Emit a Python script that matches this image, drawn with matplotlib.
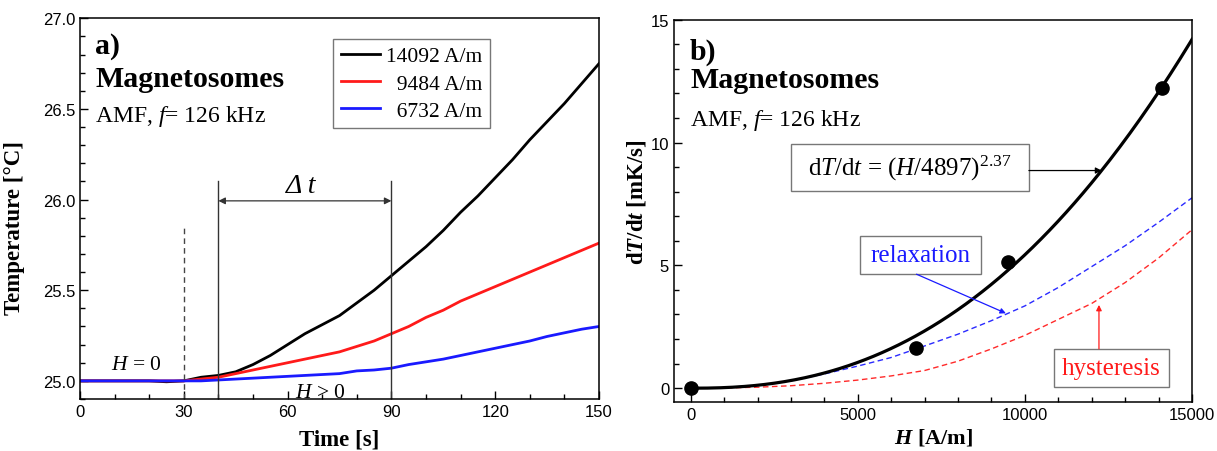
import numpy as np
import matplotlib
matplotlib.use('Agg')
import matplotlib.pyplot as plt
from matplotlib.patches import Rectangle
from matplotlib.ticker import MultipleLocator, FormatStrFormatter

# heating curves, temperature read every 5 s
time_s = [0, 5, 10, 15, 20, 25, 30, 35, 40, 45, 50, 55, 60, 65, 70, 75,
          80, 85, 90, 95, 100, 105, 110, 115, 120, 125, 130, 135, 140, 145, 150]
temp_14092 = [25.00, 25.00, 25.00, 25.00, 25.00, 24.995, 25.00, 25.02, 25.03, 25.05,
              25.09, 25.14, 25.20, 25.26, 25.31, 25.36, 25.43, 25.50, 25.58, 25.66,
              25.74, 25.83, 25.93, 26.02, 26.12, 26.22, 26.33, 26.43, 26.53, 26.64, 26.75]
temp_9484 = [25.00, 25.00, 25.00, 25.00, 25.00, 25.00, 25.00, 25.01, 25.02, 25.04,
             25.06, 25.08, 25.10, 25.12, 25.14, 25.16, 25.19, 25.22, 25.26, 25.30,
             25.35, 25.39, 25.44, 25.48, 25.52, 25.56, 25.60, 25.64, 25.68, 25.72, 25.76]
temp_6732 = [25.00, 25.00, 25.00, 25.00, 25.00, 25.00, 25.00, 25.00, 25.005, 25.01,
             25.015, 25.02, 25.025, 25.03, 25.035, 25.04, 25.055, 25.06, 25.07, 25.09,
             25.105, 25.12, 25.14, 25.16, 25.18, 25.20, 25.22, 25.245, 25.265, 25.285, 25.30]
series_labels = ['14092 A/m', '  9484 A/m', '  6732 A/m']
series_colors = ['black', '#ff1a1a', '#1a1aff']

# heating rate vs field amplitude
field_meas = [0, 6732, 9484, 14092]
rate_meas = [0.0, 1.65, 5.15, 12.2]
fit_scale = 4897
fit_exp = 2.37

field_grid = [0, 1000, 2000, 3000, 4000, 5000, 6000, 7000, 8000,
              9000, 10000, 11000, 12000, 13000, 14000, 15000]
rate_relax = [0.0, 0.02, 0.12, 0.30, 0.58, 0.90, 1.25, 1.72, 2.20,
              2.75, 3.35, 4.10, 4.95, 5.80, 6.75, 7.75]
rate_hyst = [0.0, 0.01, 0.04, 0.10, 0.20, 0.33, 0.50, 0.72, 1.10,
             1.60, 2.15, 2.80, 3.45, 4.30, 5.30, 6.45]

plt.rcParams['font.family'] = 'Liberation Serif'
plt.rcParams['mathtext.fontset'] = 'custom'
plt.rcParams['mathtext.rm'] = 'Liberation Serif'
plt.rcParams['mathtext.it'] = 'Liberation Serif:italic'
plt.rcParams['mathtext.bf'] = 'Liberation Serif:bold'
if 'mathtext.bfit' in plt.rcParams:
    plt.rcParams['mathtext.bfit'] = 'Liberation Serif:italic:bold'

W, H = 1217, 452
fig = plt.figure(figsize=(W / 100, H / 100), dpi=100)
ax1 = fig.add_axes([80 / W, 1 - 400 / H, 519 / W, 380.7 / H])
ax2 = fig.add_axes([674 / W, 1 - 402.7 / H, 518 / W, 382 / H])


def style_axes(ax):
    for sp in ax.spines.values():
        sp.set_linewidth(1.1)
    ax.tick_params(which='both', direction='in', top=False, right=False,
                   labelsize=12, labelfontfamily='Liberation Sans', width=1.0)
    ax.tick_params(which='major', length=6)
    ax.tick_params(which='minor', length=3.5)


# ---- a) temperature vs time ----
style_axes(ax1)
for ys, lab, col in zip([temp_14092, temp_9484, temp_6732], series_labels, series_colors):
    ax1.plot(time_s, ys, color=col, lw=2.0, label=lab)

ax1.set_xlim(0, 150)
ax1.set_ylim(24.9, 27.0)
ax1.xaxis.set_major_locator(MultipleLocator(30))
ax1.xaxis.set_minor_locator(MultipleLocator(10))
ax1.yaxis.set_major_locator(MultipleLocator(0.5))
ax1.yaxis.set_minor_locator(MultipleLocator(0.1))
ax1.yaxis.set_major_formatter(FormatStrFormatter('%.1f'))

# field switch-on and the time window
ax1.plot([30, 30], [24.9, 25.85], color='#444444', lw=1.0, dashes=(4, 3))
for tx in (40, 90):
    ax1.plot([tx, tx], [24.9, 26.10], color='#333333', lw=1.0)
ax1.annotate('', xy=(40, 25.993), xytext=(90, 25.993),
             arrowprops=dict(arrowstyle='<|-|>', color='#333333', lw=0.9,
                             mutation_scale=10, shrinkA=0, shrinkB=0))
ax1.text(64, 26.04, 'Δ t', style='italic', fontsize=20, ha='center', va='baseline')
ax1.text(9, 25.065, '$H$ = 0', fontsize=15.5, ha='left', va='baseline')
ax1.text(62, 24.912, '$H$ > 0', fontsize=15.5, ha='left', va='baseline')

ax1.text(0.029, 0.911, 'a)', transform=ax1.transAxes, fontsize=21.5, fontweight='bold')
ax1.text(0.029, 0.821, 'Magnetosomes', transform=ax1.transAxes, fontsize=21.5, fontweight='bold')
ax1.text(0.029, 0.731, 'AMF, $f$= 126 kHz', transform=ax1.transAxes, fontsize=17)

leg = ax1.legend(loc='upper right', bbox_to_anchor=(0.79, 0.946), fontsize=15.5,
                 frameon=True, fancybox=False, edgecolor='#777777', framealpha=1,
                 handlelength=1.8, handletextpad=0.3, labelspacing=0.33,
                 borderpad=0.35, borderaxespad=0)
leg.get_frame().set_linewidth(1.0)

ax1.set_xlabel('Time [s]', fontsize=16.5, fontweight='bold')
ax1.set_ylabel('Temperature [°C]', fontsize=16.5, fontweight='bold')
ax1.xaxis.set_label_coords(0.5, -0.078)
ax1.yaxis.set_label_coords(-0.106, 0.453)

# ---- b) heating rate vs field ----
style_axes(ax2)
h_fit = np.linspace(0, 15000, 300)
ax2.plot(h_fit, (h_fit / fit_scale) ** fit_exp, color='black', lw=2.3, zorder=3)
ax2.plot(field_grid, rate_relax, color='#2a2aff', lw=1.0, dashes=(4, 2.5), zorder=2)
ax2.plot(field_grid, rate_hyst, color='#ff2a2a', lw=1.0, dashes=(4, 2.5), zorder=2)
ax2.plot(field_meas, rate_meas, 'o', color='black', ms=9.5, zorder=4, clip_on=False)

ax2.set_xlim(-500, 15000)
ax2.set_ylim(-0.55, 15)
ax2.xaxis.set_major_locator(MultipleLocator(5000))
ax2.xaxis.set_minor_locator(MultipleLocator(1000))
ax2.yaxis.set_major_locator(MultipleLocator(5))
ax2.yaxis.set_minor_locator(MultipleLocator(1))

# fit formula box with arrow to the curve
ax2.add_patch(Rectangle((3000, 8.02), 7120, 1.92, fill=False, edgecolor='#777777', lw=1.0))
ax2.text(6560, 8.98, r'd$T$/d$t$ = $(H/4897)^{2.37}$', fontsize=18,
         ha='center', va='center')
ax2.annotate('', xy=(12300, 8.86), xytext=(10120, 8.86),
             arrowprops=dict(arrowstyle='-|>', color='black', lw=0.9,
                             mutation_scale=9, shrinkA=0, shrinkB=0))

ax2.add_patch(Rectangle((5051, 4.64), 3623, 1.57, fill=False, edgecolor='#777777', lw=1.0))
ax2.text(6862, 5.43, 'relaxation', color='#1a1aff', fontsize=18, ha='center', va='center')
ax2.annotate('', xy=(9430, 3.05), xytext=(6757, 4.64),
             arrowprops=dict(arrowstyle='-|>', color='#1a1aff', lw=0.9,
                             mutation_scale=8, shrinkA=0, shrinkB=0))

ax2.add_patch(Rectangle((10856, 0.04), 3470, 1.56, fill=False, edgecolor='#777777', lw=1.0))
ax2.text(12591, 0.82, 'hysteresis', color='#ff1a1a', fontsize=18, ha='center', va='center')
ax2.annotate('', xy=(12216, 3.39), xytext=(12216, 1.6),
             arrowprops=dict(arrowstyle='-|>', color='#ff1a1a', lw=0.9,
                             mutation_scale=8, shrinkA=0, shrinkB=0))

ax2.text(0.031, 0.897, 'b)', transform=ax2.transAxes, fontsize=21.5, fontweight='bold')
ax2.text(0.031, 0.823, 'Magnetosomes', transform=ax2.transAxes, fontsize=21.5, fontweight='bold')
ax2.text(0.031, 0.725, 'AMF, $f$= 126 kHz', transform=ax2.transAxes, fontsize=17)

ax2.set_xlabel(r'$\mathbfit{H}$ [A/m]', fontsize=16, fontweight='bold')
ax2.set_ylabel(r'd$\mathbfit{T}$/d$\mathbfit{t}$ [mK/s]', fontsize=16.5, fontweight='bold')
ax2.xaxis.set_label_coords(0.5, -0.066)
ax2.yaxis.set_label_coords(-0.050, 0.526)

fig.savefig('out.png', dpi=100)
